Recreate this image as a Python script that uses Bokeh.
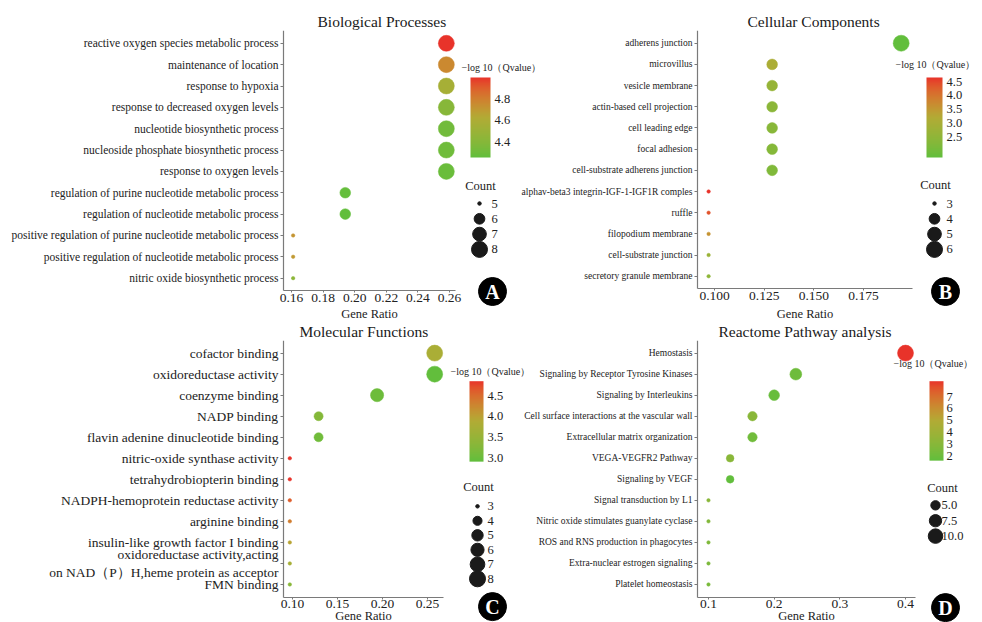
import numpy as np
from bokeh.plotting import figure
from bokeh.models import (ColumnDataSource, Range1d, FixedTicker,
                          LinearColorMapper, NumeralTickFormatter)
from bokeh.layouts import row, column
from bokeh.transform import transform
from bokeh.core.properties import value
from bokeh.embed import file_html
from bokeh.resources import INLINE

FONT = "Liberation Serif"

# ---------------- data ----------------
bp_terms = [
    "reactive oxygen species metabolic process",
    "maintenance of location",
    "response to hypoxia",
    "response to decreased oxygen levels",
    "nucleotide biosynthetic process",
    "nucleoside phosphate biosynthetic process",
    "response to oxygen levels",
    "regulation of purine nucleotide metabolic process",
    "regulation of nucleotide metabolic process",
    "positive regulation of purine nucleotide metabolic process",
    "positive regulation of nucleotide metabolic process",
    "nitric oxide biosynthetic process",
]
bp_ratio = [0.258, 0.258, 0.258, 0.258, 0.258, 0.258, 0.258, 0.194, 0.194, 0.161, 0.161, 0.161]
bp_count = [8, 8, 8, 8, 8, 8, 8, 6, 6, 5, 5, 5]
bp_q = [5.00, 4.76, 4.56, 4.40, 4.31, 4.30, 4.28, 4.26, 4.25, 4.72, 4.70, 4.42]
bp_xticks = [0.16, 0.18, 0.20, 0.22, 0.24, 0.26]
bp_xtick_labels = ["0.16", "0.18", "0.20", "0.22", "0.24", "0.26"]
bp_q_breaks = [4.4, 4.6, 4.8]
bp_q_labels = ["4.4", "4.6", "4.8"]
bp_n_breaks = [5, 6, 7, 8]
bp_n_labels = ["5", "6", "7", "8"]

cc_terms = [
    "adherens junction",
    "microvillus",
    "vesicle membrane",
    "actin-based cell projection",
    "cell leading edge",
    "focal adhesion",
    "cell-substrate adherens junction",
    "alphav-beta3 integrin-IGF-1-IGF1R comples",
    "ruffle",
    "filopodium membrane",
    "cell-substrate junction",
    "secretory granule membrane",
]
cc_ratio = [0.194, 0.129, 0.129, 0.129, 0.129, 0.129, 0.129, 0.097, 0.097, 0.097, 0.097, 0.097]
cc_count = [6, 4, 4, 4, 4, 4, 4, 3, 3, 3, 3, 3]
cc_q = [1.75, 3.05, 2.60, 2.40, 2.35, 2.30, 2.20, 4.65, 4.40, 3.60, 2.70, 2.45]
cc_xticks = [0.100, 0.125, 0.150, 0.175]
cc_xtick_labels = ["0.100", "0.125", "0.150", "0.175"]
cc_q_breaks = [2.5, 3.0, 3.5, 4.0, 4.5]
cc_q_labels = ["2.5", "3.0", "3.5", "4.0", "4.5"]
cc_n_breaks = [3, 4, 5, 6]
cc_n_labels = ["3", "4", "5", "6"]

mf_terms = [
    "cofactor binding",
    "oxidoreductase activity",
    "coenzyme binding",
    "NADP binding",
    "flavin adenine dinucleotide binding",
    "nitric-oxide synthase activity",
    "tetrahydrobiopterin binding",
    "NADPH-hemoprotein reductase activity",
    "arginine binding",
    "insulin-like growth factor I binding",
    "oxidoreductase activity,acting\non NAD（P）H,heme protein as acceptor",
    "FMN binding",
]
mf_ratio = [0.258, 0.258, 0.194, 0.129, 0.129, 0.097, 0.097, 0.097, 0.097, 0.097, 0.097, 0.097]
mf_count = [8, 8, 6, 4, 4, 3, 3, 3, 3, 3, 3, 3]
mf_q = [3.75, 2.90, 3.00, 3.25, 3.05, 4.85, 4.85, 4.60, 4.35, 3.95, 3.70, 3.30]
mf_xticks = [0.10, 0.15, 0.20, 0.25]
mf_xtick_labels = ["0.10", "0.15", "0.20", "0.25"]
mf_q_breaks = [3.0, 3.5, 4.0, 4.5]
mf_q_labels = ["3.0", "3.5", "4.0", "4.5"]
mf_n_breaks = [3, 4, 5, 6, 7, 8]
mf_n_labels = ["3", "4", "5", "6", "7", "8"]

rp_terms = [
    "Hemostasis",
    "Signaling by Receptor Tyrosine Kinases",
    "Signaling by Interleukins",
    "Cell surface interactions at the vascular wall",
    "Extracellular matrix organization",
    "VEGA-VEGFR2 Pathway",
    "Signaling by VEGF",
    "Signal transduction by L1",
    "Nitric oxide stimulates guanylate cyclase",
    "ROS and RNS production in phagocytes",
    "Extra-nuclear estrogen signaling",
    "Platelet homeostasis",
]
rp_ratio = [0.400, 0.233, 0.200, 0.167, 0.167, 0.133, 0.133, 0.100, 0.100, 0.100, 0.100, 0.100]
rp_count = [12, 7, 6, 5, 5, 4, 4, 3, 3, 3, 3, 3]
rp_q = [8.30, 2.00, 1.80, 3.00, 2.10, 3.00, 1.60, 3.00, 2.70, 2.60, 2.50, 2.40]
rp_xticks = [0.1, 0.2, 0.3, 0.4]
rp_xtick_labels = ["0.1", "0.2", "0.3", "0.4"]
rp_q_breaks = [2, 3, 4, 5, 6, 7]
rp_q_labels = ["2", "3", "4", "5", "6", "7"]
rp_n_breaks = [5.0, 7.5, 10.0]
rp_n_labels = ["5.0", "7.5", "10.0"]

# ---------------- colour gradient (piecewise Lab interpolation) ----------------
_M = np.array([[0.4124, 0.3576, 0.1805], [0.2126, 0.7152, 0.0722], [0.0193, 0.1192, 0.9505]])
_Minv = np.linalg.inv(_M)
_W = np.array([0.95047, 1.0, 1.08883])


def _f(t):
    d = 6 / 29
    return np.where(t > d ** 3, np.cbrt(t), t / (3 * d * d) + 4 / 29)


def _finv(t):
    d = 6 / 29
    return np.where(t > d, t ** 3, 3 * d * d * (t - 4 / 29))


def _to_lab(h):
    c = np.array([int(h[i:i + 2], 16) for i in (1, 3, 5)]) / 255.0
    lin = np.where(c <= 0.04045, c / 12.92, ((c + 0.055) / 1.055) ** 2.4)
    fx, fy, fz = _f(_M @ lin / _W)
    return np.array([116 * fy - 16, 500 * (fx - fy), 200 * (fy - fz)])


def _from_lab(lab):
    L, a, b = lab
    fy = (L + 16) / 116
    xyz = _finv(np.array([fy + a / 500, fy, fy - b / 200])) * _W
    lin = np.clip(_Minv @ xyz, 0, 1)
    c = np.where(lin <= 0.0031308, 12.92 * lin, 1.055 * np.power(lin, 1 / 2.4) - 0.055)
    return "#%02x%02x%02x" % tuple(int(round(v * 255)) for v in np.clip(c, 0, 1))


STOPS = ["#62BE3C", "#B2AB35", "#E8332A"]
_labs = [_to_lab(c) for c in STOPS]


def _pal(t):
    if t <= 0.5:
        a, b, u = _labs[0], _labs[1], t / 0.5
    else:
        a, b, u = _labs[1], _labs[2], (t - 0.5) / 0.5
    return _from_lab(a + (b - a) * u)


PALETTE = [_pal(t) for t in np.linspace(0, 1, 256)]


def dot_size(c, cmin, cmax):
    t = (np.asarray(c, dtype=float) - cmin) / (cmax - cmin)
    return 2.5 * (1 + 5 * np.sqrt(np.clip(t, 0, 1))) + 1.0


TXT = "#222222"
AX = "#7a7a7a"


def make_panel(cfg):
    terms, ratio, count, q = cfg["terms"], cfg["ratio"], cfg["count"], cfg["q"]
    n = len(terms)
    ypos = [n - 1 - i for i in range(n)]          # first term at the top
    fx0, fy0, W, H = cfg["fig"]
    ax_x, ft = cfg["axis_x"], cfg["frame_top"]    # pixel column of y axis, top of frame
    ax_y = cfg["axis_y"]                          # pixel row of the x axis line
    fl, fr, fb = fx0, fx0 + W, fy0 + H            # frame covers the whole panel below title
    fw, fh = fr - fl, fb - ft
    x_lo, x_hi = cfg["xlim"]
    s = (x_hi - x_lo) / (cfg["axis_end"] - ax_x)
    pxu = (ax_y - ft) / n
    p = figure(width=W, height=H,
               x_range=Range1d(x_lo - (ax_x - fl) * s, x_lo + (fr - ax_x) * s),
               y_range=Range1d(-0.6 - (fb - ax_y) / pxu, n - 0.4),
               output_backend="svg", toolbar_location=None,
               min_border_left=0, min_border_right=0,
               min_border_top=ft - fy0, min_border_bottom=0)
    p.extra_x_ranges = {"lx": Range1d(0, fw)}
    p.extra_y_ranges = {"ly": Range1d(0, fh)}
    p.border_fill_alpha = 0
    p.background_fill_alpha = 0
    p.outline_line_color = None
    p.xgrid.visible = False
    p.ygrid.visible = False

    # title
    p.title.text = cfg["title"]
    p.title.align = "left"
    p.title.offset = cfg["title_x"] - fl
    p.title.text_font = FONT
    p.title.text_font_size = "15.5px"
    p.title.text_font_style = "normal"
    p.title.text_color = "#1a1a1a"
    p.title.standoff = 1

    # axes (drawn at fixed positions inside the frame)
    xa = p.xaxis[0]
    xa.fixed_location = -0.6
    xa.ticker = FixedTicker(ticks=cfg["xticks"])
    xa.formatter = NumeralTickFormatter(format=cfg["xfmt"])
    xa.major_label_overrides = {t: l for t, l in zip(cfg["xticks"], cfg["xtick_labels"])}
    xa.bounds = (x_lo, x_hi)
    ya = p.yaxis[0]
    ya.fixed_location = x_lo
    ya.ticker = FixedTicker(ticks=ypos)
    ya.major_label_overrides = {y: t for y, t in zip(ypos, terms)}
    ya.bounds = (-0.6, n - 0.4)
    for ax in (xa, ya):
        ax.axis_line_color = AX
        ax.axis_line_width = 1.2
        ax.major_tick_line_color = AX
        ax.major_tick_out = 3
        ax.major_tick_in = 0
        ax.minor_tick_line_color = None
        ax.major_label_text_font = FONT
        ax.major_label_text_color = TXT
    xa.major_tick_out = 2
    xa.major_label_standoff = 1
    xa.major_label_text_font_size = "13.5px"
    ya.major_label_standoff = 2
    ya.major_label_text_font_size = cfg["ylab_px"]

    # bubbles
    cmin, cmax = min(count), max(count)
    mapper = LinearColorMapper(palette=PALETTE, low=min(q), high=max(q))
    src = ColumnDataSource(dict(term=terms, y=ypos, ratio=ratio, count=count, q=q,
                                size=dot_size(count, cmin, cmax)))
    p.scatter("ratio", "y", size="size", source=src,
              fill_color=transform("q", mapper), line_color=transform("q", mapper),
              line_width=0.5)

    def LX(x):
        return x - fl

    def LY(y):
        return fb - y

    def text(xs, ys, txt, size, align="left", **kw):
        p.text(x=xs, y=ys, text=txt, x_range_name="lx", y_range_name="ly",
               text_font=value(FONT), text_font_size=size, text_align=align,
               text_baseline="middle", **kw)

    # colour bar
    bx0, bx1, by_top, by_bot = cfg["bar"]
    grad = np.linspace(min(q), max(q), 120).reshape(120, 1)
    p.image(image=[grad], x=LX(bx0), y=LY(by_bot), dw=bx1 - bx0, dh=by_bot - by_top,
            color_mapper=mapper, x_range_name="lx", y_range_name="ly")
    qb = np.asarray(cfg["q_breaks"], dtype=float)
    qy = LY(by_bot) + (qb - min(q)) / (max(q) - min(q)) * (by_bot - by_top)
    text([LX(cfg["bar_lab_x"])] * len(qb), list(qy), cfg["q_labels"], "12.5px",
         text_color=TXT)
    tx, ty = cfg["bar_title"]
    text([LX(tx)], [LY(ty)], ["−log 10（Qvalue）"], "10px", text_color=TXT)

    # size legend
    cx, cy = cfg["count_title"]
    text([LX(cx)], [LY(cy)], ["Count"], "12.5px", align="center", text_color=TXT)
    dx, dy0, dstep, dlx = cfg["dots"]
    nb = cfg["n_breaks"]
    dys = [LY(dy0 + i * dstep) for i in range(len(nb))]
    p.scatter(x=[LX(dx)] * len(nb), y=dys, size=list(dot_size(nb, cmin, cmax)),
              color="#1a1a1a", x_range_name="lx", y_range_name="ly")
    text([LX(dlx)] * len(nb), dys, cfg["n_labels"], "12.5px", text_color=TXT)

    # x-axis title
    x_mid = LX(ax_x + (cfg["axis_end"] - ax_x) / 2)
    text([x_mid], [LY(cfg["xlab_y"])], ["Gene Ratio"], "12.5px", align="center",
         text_color=TXT)
    # panel letter
    lx, ly = cfg["letter_xy"]
    p.scatter(x=[LX(lx)], y=[LY(ly)], size=28, color="black",
              x_range_name="lx", y_range_name="ly")
    text([LX(lx)], [LY(ly) - 0.5], [cfg["letter"]], "20px", align="center",
         text_color="white", text_font_style="bold")
    return p


pA = make_panel(dict(
    terms=bp_terms, ratio=bp_ratio, count=bp_count, q=bp_q, title="Biological Processes",
    fig=(0, 0, 540, 320), axis_x=283, frame_top=30, axis_y=290, axis_end=455,
    xlim=(0.1549, 0.2638),
    title_x=317, xticks=bp_xticks, xtick_labels=bp_xtick_labels, xfmt="0.00", ylab_px="11.5px",
    bar=(470, 490, 77, 157), bar_lab_x=494, bar_title=(461, 67),
    q_breaks=bp_q_breaks, q_labels=bp_q_labels,
    count_title=(480, 185), dots=(479, 203, 15.3, 491),
    n_breaks=bp_n_breaks, n_labels=bp_n_labels, xlab_y=313, letter="A", letter_xy=(492, 291)))

pB = make_panel(dict(
    terms=cc_terms, ratio=cc_ratio, count=cc_count, q=cc_q, title="Cellular Components",
    fig=(510, 0, 472, 320), axis_x=697, frame_top=30, axis_y=288, axis_end=912,
    xlim=(0.0914, 0.1997),
    title_x=747, xticks=cc_xticks, xtick_labels=cc_xtick_labels, xfmt="0.000", ylab_px="9.5px",
    bar=(926, 942, 77, 157), bar_lab_x=946, bar_title=(895, 64),
    q_breaks=cc_q_breaks, q_labels=cc_q_labels,
    count_title=(935, 184), dots=(934, 203, 15.3, 946),
    n_breaks=cc_n_breaks, n_labels=cc_n_labels, xlab_y=313, letter="B", letter_xy=(945, 291)))

pC = make_panel(dict(
    terms=mf_terms, ratio=mf_ratio, count=mf_count, q=mf_q, title="Molecular Functions",
    fig=(0, 320, 540, 302), axis_x=283, frame_top=338, axis_y=596, axis_end=443,
    xlim=(0.0900, 0.2678),
    title_x=299, xticks=mf_xticks, xtick_labels=mf_xtick_labels, xfmt="0.00", ylab_px="13.5px",
    bar=(469, 483, 379, 460), bar_lab_x=487, bar_title=(450, 369),
    q_breaks=mf_q_breaks, q_labels=mf_q_labels,
    count_title=(478, 486), dots=(477, 505, 14.6, 487),
    n_breaks=mf_n_breaks, n_labels=mf_n_labels, xlab_y=615.5, letter="C", letter_xy=(492, 606)))

pD = make_panel(dict(
    terms=rp_terms, ratio=rp_ratio, count=rp_count, q=rp_q, title="Reactome Pathway analysis",
    fig=(510, 320, 472, 302), axis_x=697, frame_top=338, axis_y=596, axis_end=915,
    xlim=(0.0833, 0.4152),
    title_x=718, xticks=rp_xticks, xtick_labels=rp_xtick_labels, xfmt="0.0", ylab_px="9.5px",
    bar=(929, 943, 379, 459), bar_lab_x=946, bar_title=(893, 361),
    q_breaks=rp_q_breaks, q_labels=rp_q_labels,
    count_title=(942, 487), dots=(935, 504, 15.5, 941),
    n_breaks=rp_n_breaks, n_labels=rp_n_labels, xlab_y=615.5, letter="D", letter_xy=(945, 607)))

pB.margin = (0, 0, 0, -30)
pD.margin = (0, 0, 0, -30)

layout = column(row(pA, pB), row(pC, pD))
open("out.html", "w").write(file_html(layout, INLINE))
